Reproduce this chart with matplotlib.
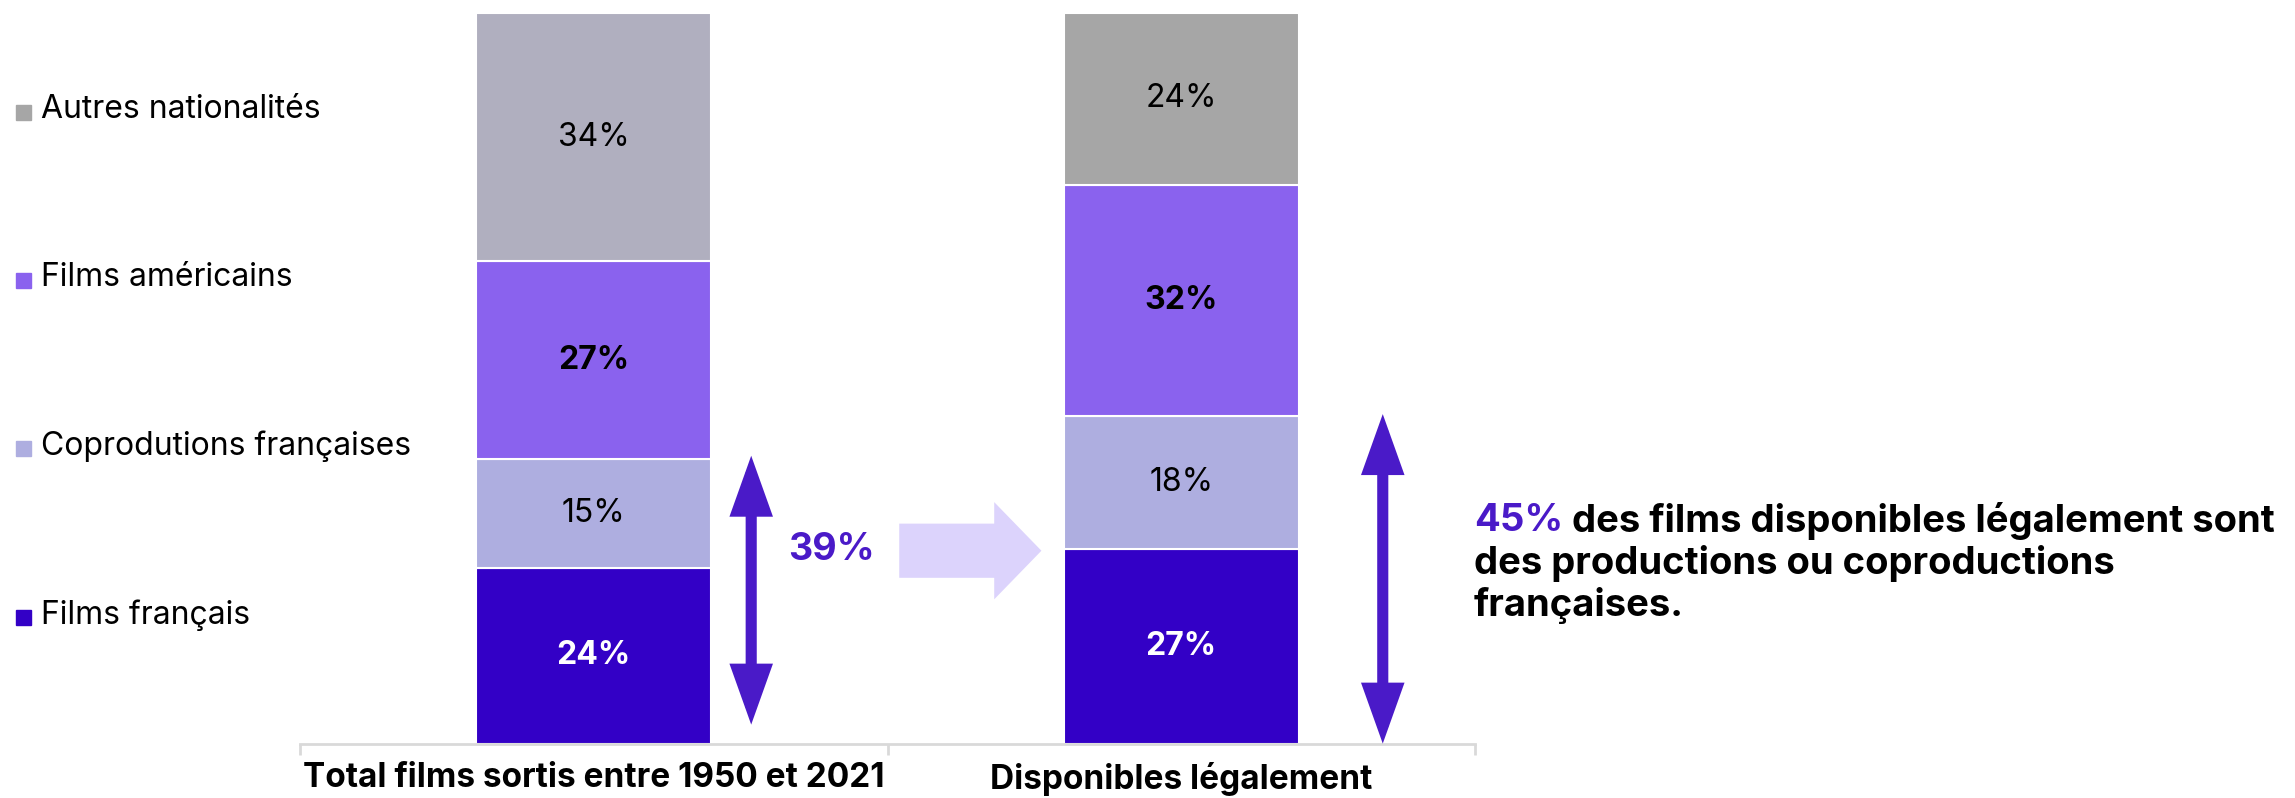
import numpy as np
import matplotlib.pyplot as plt
from matplotlib.patches import Rectangle

plt.rcParams['font.family'] = ['Inter', 'DejaVu Sans']

# data
categories = ['Total films sortis entre 1950 et 2021', 'Disponibles légalement']
series = ['Films français', 'Coprodutions françaises', 'Films américains', 'Autres nationalités']
francais = [24, 26.7]
coprod = [15, 18.1]
americains = [27, 31.7]
autres = [34, 23.5]
part_fr_total = 39   # francais + coprod, first bar
part_fr_dispo = 45   # francais + coprod, second bar

c_fr = '#3300C6'
c_co = '#AEAEE0'
c_us = '#8A62EE'
c_au = ['#B0AFBF', '#A6A6A6']
c_arrow = '#4A1AC8'

W, H = 2295, 798
fig = plt.figure(figsize=(W / 100, H / 100), dpi=100)
ax = fig.add_axes([300 / W, 1 - 743.6 / H, 1175 / W, (743.6 - 13) / H])

x = np.arange(len(categories))
bw = 0.4
vals = [francais, coprod, americains, autres]
cols = [[c_fr, c_fr], [c_co, c_co], [c_us, c_us], c_au]
# label style per series: (color, bold)
lab_style = [('white', True), ('black', False), ('black', True), ('black', False)]
bottom = np.zeros(len(categories))
for v, c, (tc, bold) in zip(vals, cols, lab_style):
    v = np.array(v, dtype=float)
    ax.bar(x, v, bw, bottom=bottom, color=c, edgecolor='white', linewidth=1.5)
    for xi, vi, bi in zip(x, v, bottom):
        ax.text(xi, bi + vi / 2, f'{vi:.0f}%', ha='center', va='center',
                fontsize=23, color=tc, fontweight='bold' if bold else 'normal')
    bottom += v

ax.set_xlim(-0.5, 1.5)
ax.set_ylim(0, 100)
ax.set_yticks([])
for s in ['top', 'right', 'left']:
    ax.spines[s].set_visible(False)
ax.spines['bottom'].set_color('#D9D9D9')
ax.spines['bottom'].set_linewidth(2)
ax.set_xticks(x)
ax.set_xticklabels(categories, fontsize=24, fontweight='bold')
ax.tick_params(axis='x', length=0, pad=13)
ax.set_xticks([-0.5, 0.5, 1.5], minor=True)
ax.tick_params(axis='x', which='minor', length=8, width=2, color='#D9D9D9')

# double arrows
arrow_kw = dict(arrowstyle='<|-|>,head_length=1.4,head_width=0.5',
                mutation_scale=20, lw=8, color=c_arrow,
                shrinkA=0, shrinkB=0, joinstyle='miter', capstyle='butt')
ax.annotate('', xy=(0.268, 39.4), xytext=(0.268, 2.6), arrowprops=arrow_kw)
ax.annotate('', xy=(1.343, 45.1), xytext=(1.343, 0.0), arrowprops=arrow_kw,
            annotation_clip=False)
ax.text(0.33, 26.5, f'{part_fr_total}%', fontsize=27, fontweight='bold',
        color=c_arrow, ha='left', va='center')

# big light arrow
ax.annotate('', xy=(0.762, 26.4), xytext=(0.52, 26.4),
            arrowprops=dict(arrowstyle='simple,head_length=3.4,head_width=7.0,tail_width=3.9',
                            mutation_scale=10, color='#DCD3FC', lw=0,
                            shrinkA=0, shrinkB=0))

# legend
leg_y = [110, 278, 446, 615]
leg_c = [c_au[1], c_us, c_co, c_fr]
for lab, yy, c in zip(series[::-1], leg_y, leg_c):
    fig.patches.append(Rectangle((16 / W, 1 - (yy + 10) / H), 15 / W, 15 / H,
                                 transform=fig.transFigure, color=c))
    fig.text(41 / W, 1 - yy / H, lab, fontsize=23, va='center', ha='left')

# comment text
fs = 27.5
t1 = fig.text(1474 / W, 1 - 521 / H, f'{part_fr_dispo}%', fontsize=fs,
              fontweight='bold', color=c_arrow, va='center', ha='left')
ax.annotate(' des films disponibles légalement sont', xy=(1, 0.5), xycoords=t1,
            fontsize=fs, fontweight='bold', va='center', ha='left')
fig.text(1474 / W, 1 - 563 / H, 'des productions ou coproductions', fontsize=fs,
         fontweight='bold', va='center', ha='left')
fig.text(1474 / W, 1 - 605 / H, 'françaises.', fontsize=fs,
         fontweight='bold', va='center', ha='left')

fig.savefig('out.png', dpi=100)
